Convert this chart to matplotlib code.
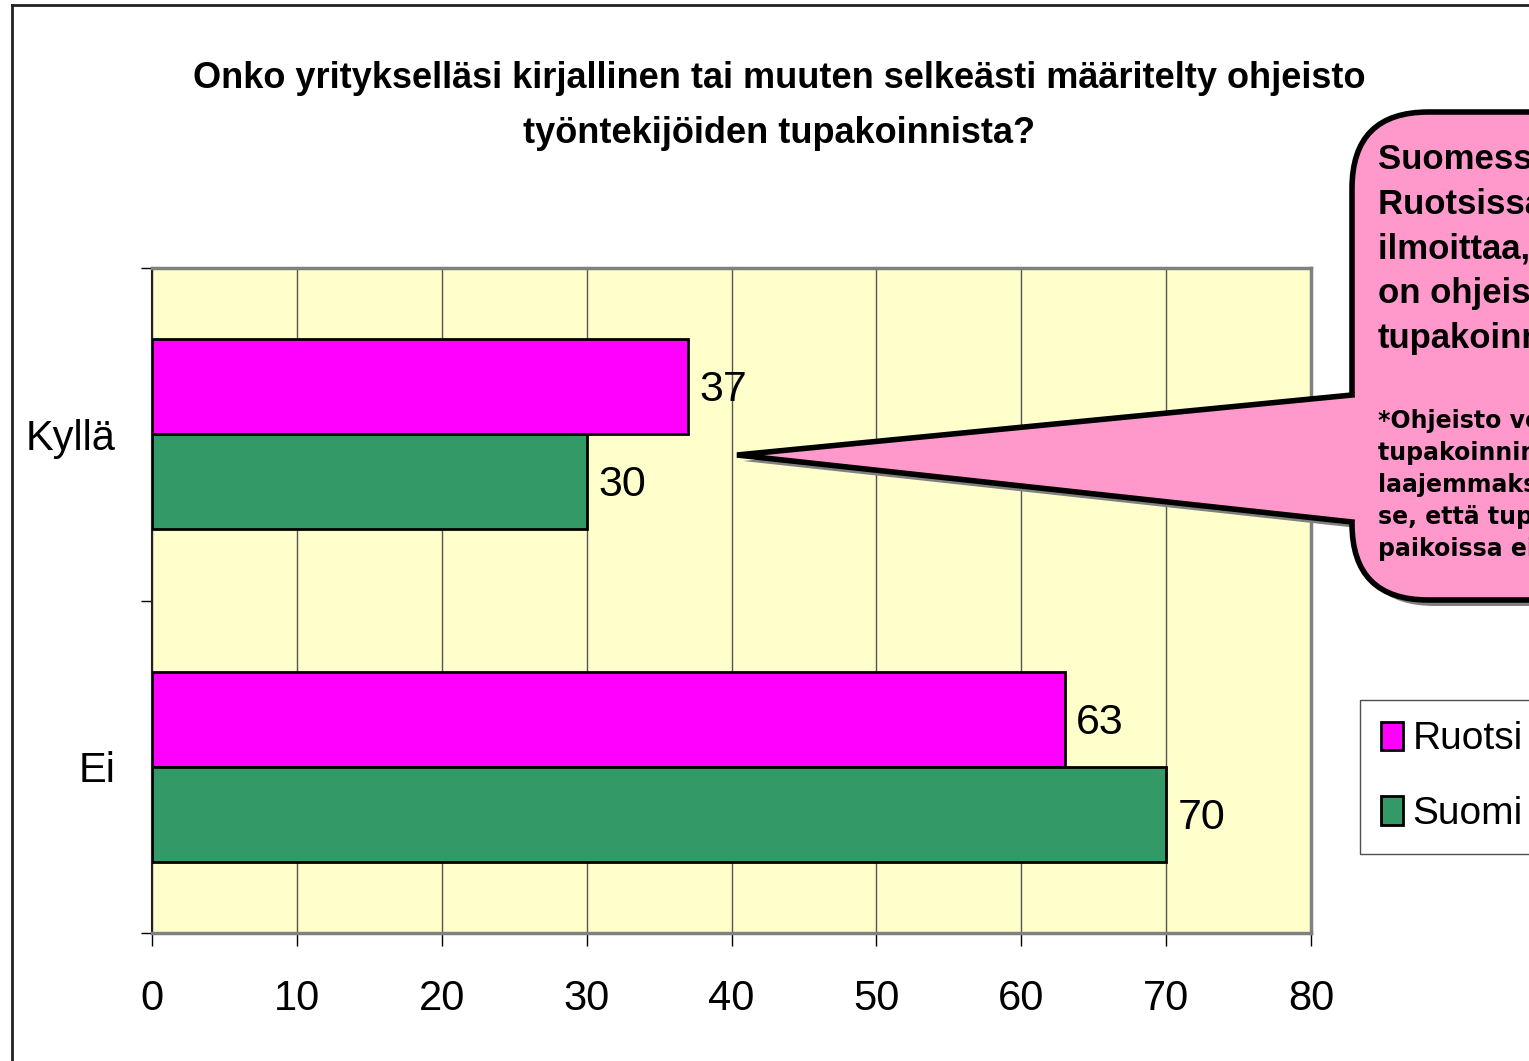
import matplotlib.pyplot as plt
from matplotlib.patches import FancyBboxPatch, Polygon, Rectangle
from matplotlib.lines import Line2D

W, H = 1529, 1061

categories = ["Ei", "Kyllä"]
ruotsi = [63, 37]
suomi = [70, 30]
series_names = ["Ruotsi", "Suomi"]
xticks = [0, 10, 20, 30, 40, 50, 60, 70, 80]

title_lines = ["Onko yritykselläsi kirjallinen tai muuten selkeästi määritelty ohjeisto",
               "työntekijöiden tupakoinnista?"]
note_big = ["Suomessa 30% ja", "Ruotsissa 37%", "ilmoittaa, että heillä", "on ohjeisto*",
            "tupakoinnista"]
note_small = ["*Ohjeisto voi olla", "tupakoinnin kielto tai", "laajemmaksi ymmärrettynä",
              "se, että tupakointi on", "paikoissa ei sallittua"]

plt.rcParams["font.family"] = ["Liberation Sans", "DejaVu Sans"]

def px(x, y):
    return x / W, 1 - y / H

fig = plt.figure(figsize=(W / 100, H / 100), dpi=100)
fig.patch.set_facecolor("white")

# outer chart frame
fig.add_artist(Line2D([12 / W, 12 / W], [0, 1 - 5 / H], transform=fig.transFigure, color="#222222", lw=2))
fig.add_artist(Line2D([12 / W, 1], [1 - 5 / H, 1 - 5 / H], transform=fig.transFigure, color="#222222", lw=2))

ax = fig.add_axes([152 / W, 1 - 933 / H, (1311 - 152) / W, (933 - 268) / H])
ax.set_facecolor("#FFFFCC")

pos = [0, 1]
bh = 0.286
bars_r = ax.barh([p + bh / 2 for p in pos], ruotsi, height=bh, color="#FF00FF",
                 edgecolor="black", linewidth=2, label=series_names[0], zorder=3)
bars_s = ax.barh([p - bh / 2 for p in pos], suomi, height=bh, color="#339966",
                 edgecolor="black", linewidth=2, label=series_names[1], zorder=3)

for bars, vals in [(bars_r, ruotsi), (bars_s, suomi)]:
    for b, v in zip(bars, vals):
        ax.text(v + 0.8, b.get_y() + b.get_height() / 2 - 0.01, str(v), va="center", ha="left",
                fontsize=31, zorder=4)

ax.set_xlim(0, 80)
ax.set_ylim(-0.5, 1.5)
ax.set_xticks(xticks)
ax.xaxis.grid(True, color="#555555", lw=1, zorder=1)
ax.tick_params(axis="x", labelsize=30, length=9, width=1, color="black", pad=24)
ax.set_yticks(pos)
ax.set_yticklabels(categories)
ax.tick_params(axis="y", labelsize=30, length=0, pad=26)
ax.set_yticks([-0.5, 0.5, 1.5], minor=True)
ax.tick_params(axis="y", which="minor", length=8, width=1, color="black")

for s in ["top", "right", "bottom"]:
    ax.spines[s].set_color("#808080")
    ax.spines[s].set_linewidth(2.5)
ax.spines["left"].set_color("#222222")
ax.spines["left"].set_linewidth(1.5)

# title
fig.text(*px(779, 78), title_lines[0], ha="center", va="center", fontsize=26, fontweight="bold")
fig.text(*px(779, 133), title_lines[1], ha="center", va="center", fontsize=26, fontweight="bold")

# legend
handles = [Rectangle((0, 0), 1, 1, facecolor="#FF00FF", edgecolor="black", lw=2),
           Rectangle((0, 0), 1, 1, facecolor="#339966", edgecolor="black", lw=2)]
leg = fig.legend(handles, series_names, loc="upper left", bbox_to_anchor=px(1360, 700),
                 fontsize=28, frameon=True, fancybox=False, handlelength=0.55, handleheight=0.75,
                 handletextpad=0.25, labelspacing=1.0, borderpad=0.55, borderaxespad=0)
leg.get_frame().set_edgecolor("#222222")
leg.get_frame().set_linewidth(1)

# callout
tip = (737, 455)
top_join, bot_join = (1352, 395), (1352, 522)
sh = 6
fig.add_artist(FancyBboxPatch(px(1352 + sh, 600 + sh), 400 / W, (600 - 112) / H,
                              boxstyle="round,pad=0,rounding_size=0.05", transform=fig.transFigure,
                              facecolor="#808080", edgecolor="none", mutation_aspect=W / H))
fig.add_artist(Polygon([px(tip[0] + sh, tip[1] + sh), px(top_join[0] + sh, top_join[1] + sh),
                        px(bot_join[0] + sh, bot_join[1] + sh)], closed=True,
                       transform=fig.transFigure, facecolor="#808080", edgecolor="none"))
fig.add_artist(FancyBboxPatch(px(1352, 600), 400 / W, (600 - 112) / H,
                              boxstyle="round,pad=0,rounding_size=0.05", transform=fig.transFigure,
                              facecolor="#FF99CC", edgecolor="black", lw=4, mutation_aspect=W / H))
fig.add_artist(Polygon([px(*tip), px(1360, top_join[1] - 2), px(1360, bot_join[1] + 2)], closed=True,
                       transform=fig.transFigure, facecolor="#FF99CC", edgecolor="none"))
fig.add_artist(Line2D([px(*top_join)[0], px(*tip)[0], px(*bot_join)[0]],
                      [px(*top_join)[1], px(*tip)[1], px(*bot_join)[1]],
                      transform=fig.transFigure, color="black", lw=4, solid_joinstyle="miter"))

for i, line in enumerate(note_big):
    fig.text(*px(1378, 160 + i * 44.5), line, ha="left", va="center", fontsize=25,
             fontweight="bold")
for i, line in enumerate(note_small):
    fig.text(*px(1378, 421 + i * 32), line, ha="left", va="center", fontsize=17,
             fontweight="bold", family=["DejaVu Sans"])

fig.savefig("out.png", dpi=100)
